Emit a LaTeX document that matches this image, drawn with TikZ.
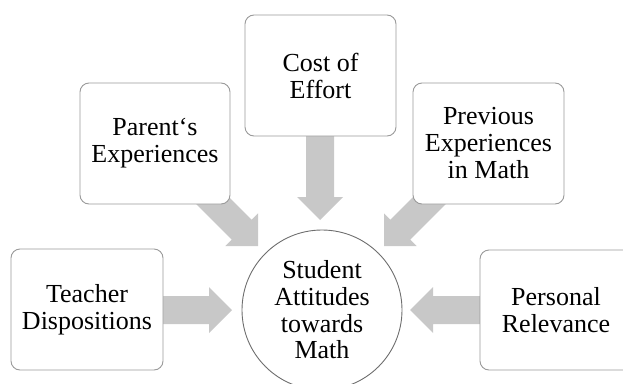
\documentclass[tikz,border=0pt]{standalone}
\usepackage{fontspec}
\setmainfont{Liberation Serif}
\usetikzlibrary{calc,backgrounds}
\definecolor{arrgray}{HTML}{C8C8C8}
\definecolor{boxline}{HTML}{9A9A9A}
\definecolor{circline}{HTML}{6E6E6E}
\tikzset{
  stepbox/.style={draw=boxline, line width=0.9pt, fill=white, rounded corners=9pt,
    align=center, inner sep=0pt, font=\fontsize{26}{27}\selectfont},
  hubnode/.style={circle, draw=circline, line width=0.9pt, fill=white, minimum size=160pt,
    align=center, inner sep=0pt, font=\fontsize{26}{26.7}\selectfont},
  arrowfill/.style={fill=arrgray, draw=none}
}
\newcommand{\blockarr}[2]{%
  \coordinate (hbase) at ($(#2)!23pt!(#1)$);
  \fill[arrowfill] ($(#1)!14pt!90:(#2)$) -- ($(hbase)!14pt!-90:(#1)$) --
    ($(hbase)!23pt!-90:(#1)$) -- (#2) -- ($(hbase)!23pt!90:(#1)$) --
    ($(hbase)!14pt!90:(#1)$) -- ($(#1)!14pt!-90:(#2)$) -- cycle;
}
\begin{document}
\begin{tikzpicture}[x=1pt,y=-1pt]
\useasboundingbox (0,0) rectangle (623,383);
% nodes
\node[stepbox, minimum width=152pt, minimum height=121pt] (teacher) at (87,309.5) {Teacher\\Dispositions};
\node[stepbox, minimum width=150pt, minimum height=121pt] (parent) at (155,143.5) {Parent‘s\\Experiences};
\node[stepbox, minimum width=151pt, minimum height=121pt] (cost) at (320.5,75.5) {Cost of\\Effort};
\node[stepbox, minimum width=151pt, minimum height=121pt] (prev) at (488.5,143.5) {Previous\\Experiences\\in Math};
\node[stepbox, minimum width=152pt, minimum height=120pt] (personal) at (556,310) {Personal\\Relevance};
\node[hubnode] (student) at (322,310) {Student\\Attitudes\\towards\\Math};
% arrow coordinates
\coordinate (sCost) at (320,130);
\coordinate (tCost) at (320,220);
\coordinate (sTeach) at (160,310);
\coordinate (tTeach) at (232,310);
\coordinate (sPers) at (484,310);
\coordinate (tPers) at (410,310);
\coordinate (sPar) at (198,186);
\coordinate (tPar) at (258,246);
\coordinate (sPrev) at (444,186);
\coordinate (tPrev) at (384,246);
\begin{pgfonlayer}{background}
\blockarr{sCost}{tCost}
\blockarr{sTeach}{tTeach}
\blockarr{sPers}{tPers}
\blockarr{sPar}{tPar}
\blockarr{sPrev}{tPrev}
\end{pgfonlayer}
\end{tikzpicture}
\end{document}
